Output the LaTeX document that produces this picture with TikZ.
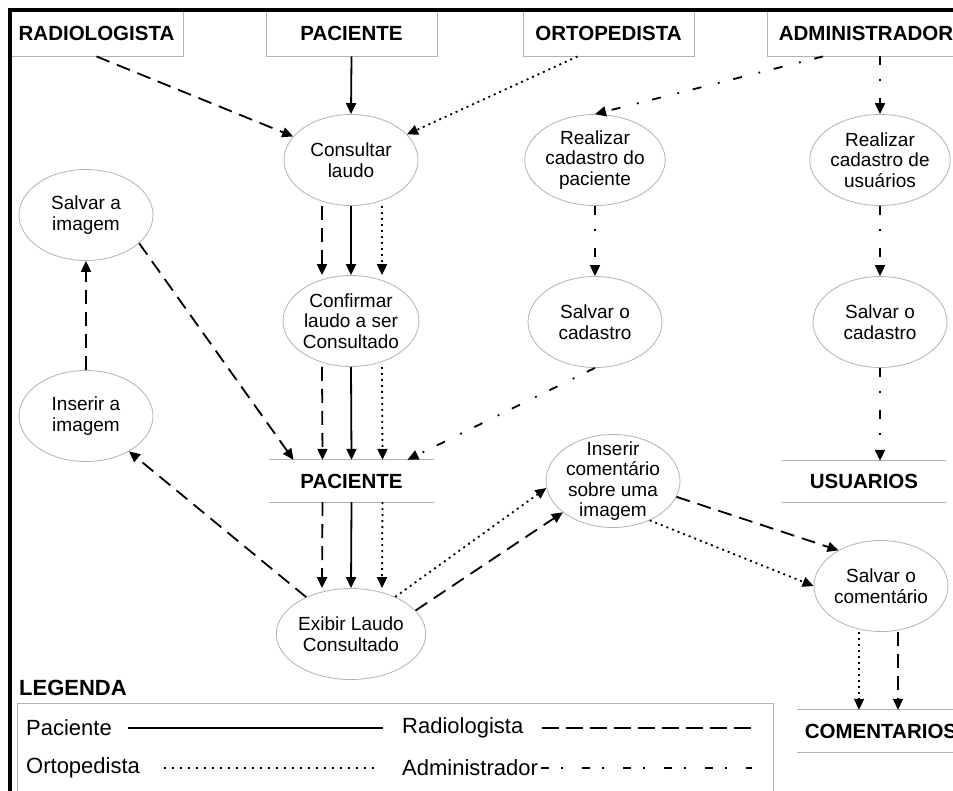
\documentclass[tikz,border=0pt]{standalone}
\usepackage{fontspec}
\setmainfont{Liberation Sans}
\usetikzlibrary{arrows.meta, shapes.geometric}

\tikzset{
  actor/.style={draw=gray!60, line width=0.9pt, minimum height=46pt, inner sep=0pt, font=\fontsize{20.5}{22}\selectfont\bfseries},
  tarefa/.style={ellipse, draw=gray!60, line width=0.8pt, minimum width=134pt, minimum height=91pt, inner xsep=0pt, inner ysep=-12pt, align=center, font=\fontsize{19}{20.5}\selectfont},
  deposito/.style={minimum height=42pt, inner sep=0pt, font=\fontsize{20.5}{22}\selectfont\bfseries},
  fluxo/.style={line width=1.8pt, -{Triangle[length=11pt,width=10pt]}},
  paclin/.style={},
  radlin/.style={dash pattern=on 14pt off 8pt},
  ortlin/.style={dash pattern=on 2pt off 4pt},
  admlin/.style={dash pattern=on 9pt off 14pt on 1.8pt off 17pt},
  legtext/.style={anchor=west, inner sep=0pt, font=\fontsize{22}{24}\selectfont},
  legline/.style={line width=1.5pt}
}

\begin{document}
\begin{tikzpicture}[x=1pt,y=-1pt]
  \clip (0,0) rectangle (953,790);
  \fill[white] (0,0) rectangle (953,790);

  \node[actor, minimum width=173pt] at (96.5,33) (rad) {RADIOLOGISTA};
  \node[actor, minimum width=171pt] at (351.5,33) (pac) {PACIENTE};
  \node[actor, minimum width=171pt] at (608.5,33) (ort) {ORTOPEDISTA};
  \node[actor, minimum width=198pt] at (866,33) (adm) {ADMINISTRADOR};

  \node[tarefa] at (351,160) (consulta) {Consultar\\laudo};
  \node[tarefa] at (351,321) (confirma) {Confirmar\\laudo a ser\\Consultado};
  \node[tarefa] at (595,160) (realpac) {Realizar\\cadastro do\\paciente};
  \node[tarefa] at (880,160) (realusu) {Realizar\\cadastro de\\usuários};
  \node[tarefa] at (595,322) (salvcad1) {Salvar o\\cadastro};
  \node[tarefa] at (880,322) (salvcad2) {Salvar o\\cadastro};
  \node[tarefa] at (86,215) (salvimg) {Salvar a\\imagem};
  \node[tarefa] at (86,416) (insimg) {Inserir a\\imagem};
  \node[tarefa] at (351,634) (exibe) {Exibir Laudo\\Consultado};
  \node[tarefa, minimum height=93pt] at (613,481) (inscom) {Inserir\\comentário\\sobre uma\\imagem};
  \node[tarefa] at (881,586) (salvcom) {Salvar o\\comentário};

  \node[deposito, minimum width=165pt] at (351.5,481) (pacst) {PACIENTE};
  \node[deposito, minimum width=164pt, minimum height=41pt] at (864,481.5) (usust) {USUARIOS};
  \node[deposito, minimum width=168pt] at (881,731) (comst) {COMENTARIOS};
  \foreach \st in {pacst, usust, comst}
    \draw[gray!60, line width=1pt] (\st.north west) -- (\st.north east) (\st.south west) -- (\st.south east);

  \draw[fluxo, radlin] (rad.south) -- (consulta);
  \draw[fluxo] (pac.south) -- (consulta.north);
  \draw[fluxo, ortlin] ([xshift=-31pt]ort.south) -- (consulta);
  \draw[fluxo, admlin] ([xshift=-43pt]adm.south) -- (realpac.north);
  \draw[fluxo, admlin] (realusu |- adm.south) -- (realusu);

  \foreach \dx/\estilo in {-29/radlin, 0/paclin, 31/ortlin} {
    \draw[fluxo, \estilo] ([xshift=\dx pt]consulta.south) -- ([xshift=\dx pt]confirma.north);
    \draw[fluxo, \estilo] ([xshift=\dx pt]confirma.south) -- ([xshift=\dx pt]pacst.north);
    \draw[fluxo, \estilo] ([xshift=\dx pt]pacst.south) -- ([xshift=\dx pt]exibe.north);
  }

  \draw[fluxo, radlin] (salvimg.-28) -- ([xshift=-58pt]pacst.north);
  \draw[fluxo, admlin] (realpac) -- (salvcad1);
  \draw[fluxo, admlin] (salvcad1.south) -- ([xshift=56pt]pacst.north);
  \draw[fluxo, admlin] (realusu) -- (salvcad2);
  \draw[fluxo, admlin] (salvcad2) -- (salvcad2 |- usust.north);
  \draw[fluxo, radlin] (exibe) -- (insimg);
  \draw[fluxo, radlin] (insimg) -- (salvimg);
  \draw[fluxo, ortlin] (exibe.40) -- (inscom.186);
  \draw[fluxo, radlin] (exibe.20) -- (inscom.212);
  \draw[fluxo, radlin] (inscom.-14) -- (salvcom.140);
  \draw[fluxo, ortlin] (inscom.-47) -- (salvcom.west);
  \draw[fluxo, ortlin] ([xshift=-22pt]salvcom.south) -- ([xshift=-22pt]comst.north);
  \draw[fluxo, radlin] ([xshift=17pt]salvcom.south) -- ([xshift=17pt]comst.north);

  \draw[line width=3.5pt] (10,800) -- (10,10) -- (960,10);

  \node[legtext, font=\fontsize{22}{24}\selectfont\bfseries] at (19,688) (legenda) {LEGENDA};
  \draw[gray!60, line width=1pt] (17,800) -- (17,703) -- (773,703) -- (773,800);
  \node[legtext] at (26,728) (legpac) {Paciente};
  \node[legtext] at (402,728) (legrad) {Radiologista};
  \node[legtext] at (26,768) (legort) {Ortopedista};
  \node[legtext] at (402,768) (legadm) {Administrador};
  \coordinate (fimrad) at (757,728);
  \coordinate (fimadm) at (752,768);
  \draw[legline] ([xshift=16pt]legpac.east) -- ([xshift=-19pt]legrad.west);
  \draw[legline, dash pattern=on 17pt off 7pt] ([xshift=19pt]legrad.east) -- (fimrad);
  \draw[legline, dash pattern=on 1.5pt off 6.5pt] ([xshift=24pt]legort.east) -- ([xshift=-22pt]legadm.west);
  \draw[legline, dash pattern=on 8pt off 12pt on 1.5pt off 19.5pt] ([xshift=3pt]legadm.east) -- (fimadm);
\end{tikzpicture}
\end{document}
